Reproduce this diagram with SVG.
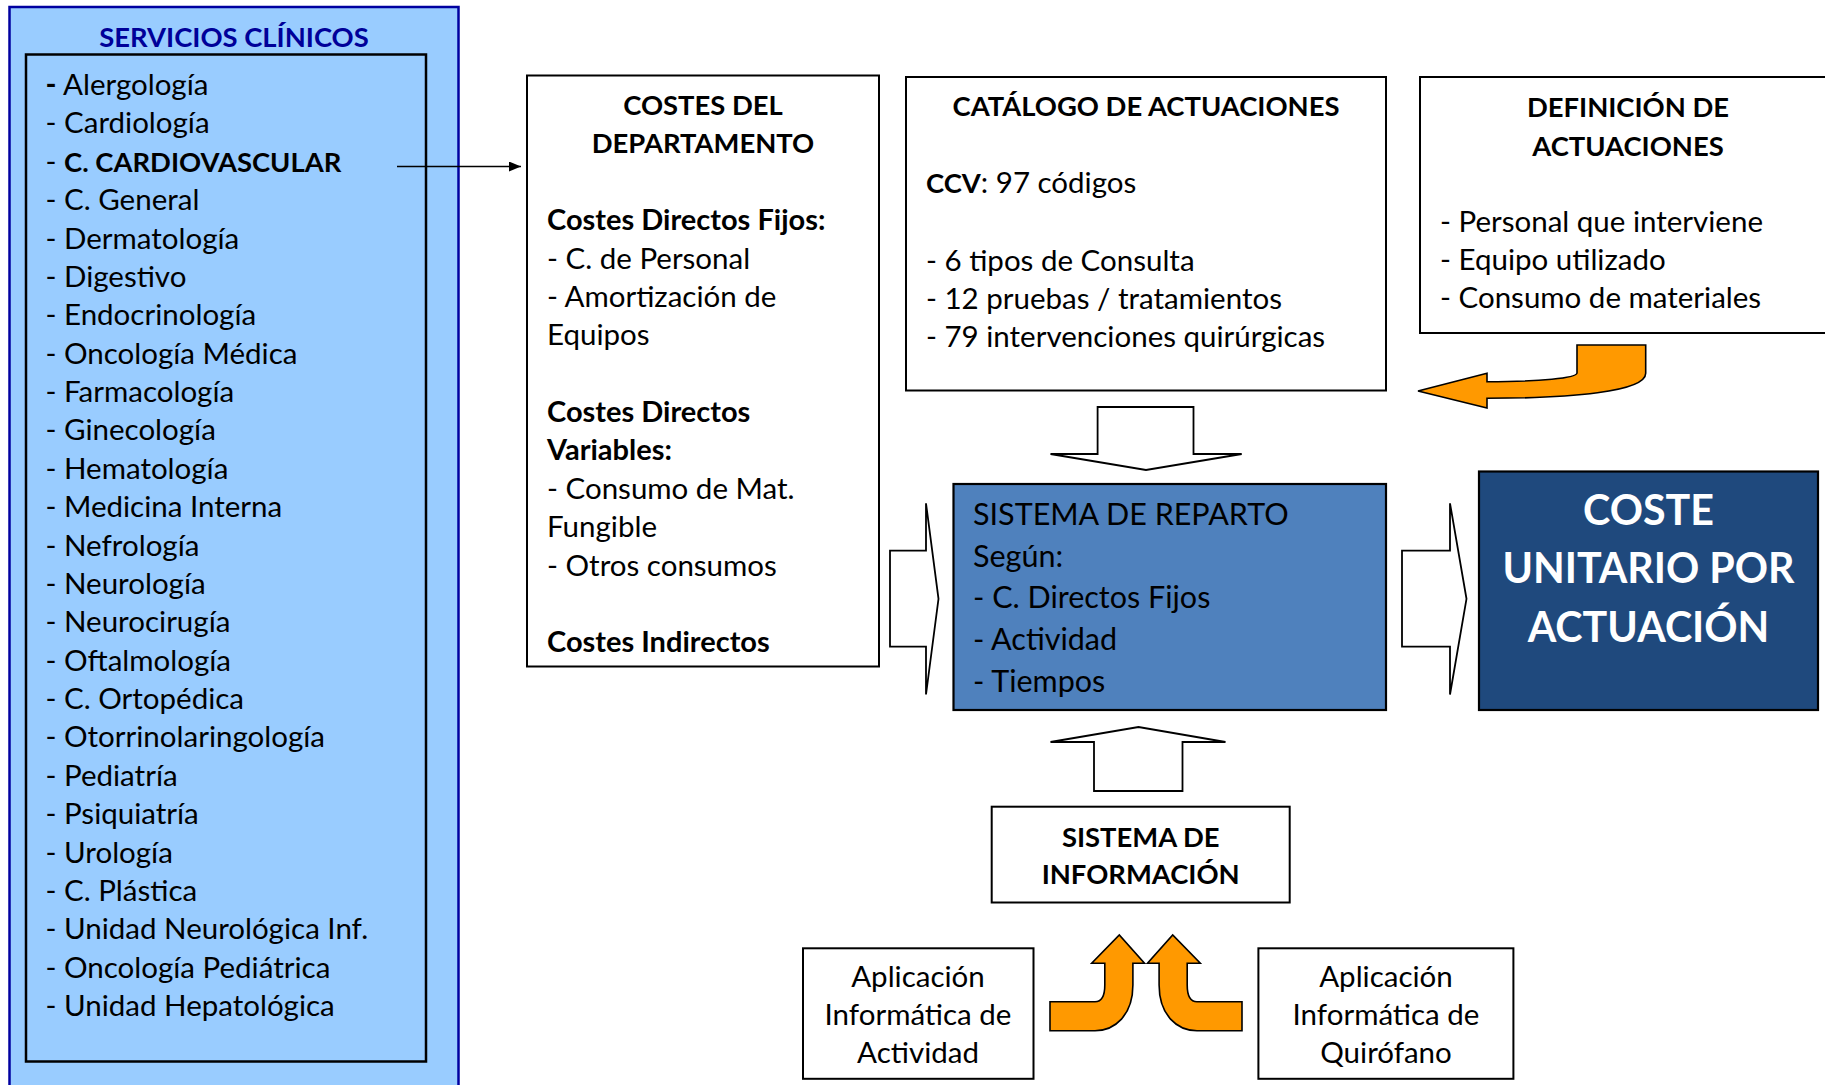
<svg xmlns="http://www.w3.org/2000/svg" width="1825" height="1085" viewBox="0 0 1825 1085">
<style>
  text { font-family: Lato, "Open Sans", "Liberation Sans", sans-serif; fill: #000; }
  .t { font-size: 29.5px; }
  .b { font-weight: bold; font-size: 27.4px; }
  .bm { font-weight: bold; font-size: 29px; }
  .c { text-anchor: middle; }
  .box { fill: #fff; stroke: #000; stroke-width: 2; }
  .blk { fill: #fff; stroke: #000; stroke-width: 1.8; stroke-linejoin: miter; }
  .org { fill: #FF9900; stroke: #000; stroke-width: 1.6; stroke-linejoin: miter; }
  .conn { stroke: #000; stroke-width: 1.6; fill: none; }
</style>
<defs>
  <marker id="ah" viewBox="0 0 12 10" refX="12" refY="5" markerWidth="12" markerHeight="10" markerUnits="userSpaceOnUse" orient="auto">
    <path d="M0,0 L12,5 L0,10 Z" fill="#000"/>
  </marker>
</defs>
<rect width="1825" height="1085" fill="#fff"/>

<g id="servicios">
  <rect x="9.5" y="7" width="449" height="1090" fill="#99CCFF" stroke="#0000A0" stroke-width="2.5"/>
  <text x="234" y="46.5" class="c b" style="fill:#000099">SERVICIOS CLÍNICOS</text>
  <rect x="26" y="54.5" width="400" height="1007" fill="none" stroke="#000" stroke-width="2.5"/>
  <g class="t">
    <text x="45.5" y="95"><tspan style="font-weight:bold">-</tspan> Alergología</text>
    <text x="45.5" y="133.4">- Cardiología</text>
    <text x="45.5" y="171.8">- <tspan class="b">C. CARDIOVASCULAR</tspan></text>
    <text x="45.5" y="210.1">- C. General</text>
    <text x="45.5" y="248.5">- Dermatología</text>
    <text x="45.5" y="286.9">- Digestivo</text>
    <text x="45.5" y="325.3">- Endocrinología</text>
    <text x="45.5" y="363.6">- Oncología Médica</text>
    <text x="45.5" y="402">- Farmacología</text>
    <text x="45.5" y="440.4">- Ginecología</text>
    <text x="45.5" y="478.8">- Hematología</text>
    <text x="45.5" y="517.1">- Medicina Interna</text>
    <text x="45.5" y="555.5">- Nefrología</text>
    <text x="45.5" y="593.9">- Neurología</text>
    <text x="45.5" y="632.3">- Neurocirugía</text>
    <text x="45.5" y="670.6">- Oftalmología</text>
    <text x="45.5" y="709">- C. Ortopédica</text>
    <text x="45.5" y="747.4">- Otorrinolaringología</text>
    <text x="45.5" y="785.8">- Pediatría</text>
    <text x="45.5" y="824.1">- Psiquiatría</text>
    <text x="45.5" y="862.5">- Urología</text>
    <text x="45.5" y="900.9">- C. Plástica</text>
    <text x="45.5" y="939.3">- Unidad Neurológica Inf.</text>
    <text x="45.5" y="977.6">- Oncología Pediátrica</text>
    <text x="45.5" y="1016">- Unidad Hepatológica</text>
  </g>
</g>

<g id="costes">
  <rect class="box" x="527" y="75.5" width="352" height="591"/>
  <g class="t">
    <text x="703" y="114.5" class="c b">COSTES DEL</text>
    <text x="703" y="153" class="c b">DEPARTAMENTO</text>
    <text x="547" y="229.5" class="bm">Costes Directos Fijos:</text>
    <text x="547" y="268.5">- C. de Personal</text>
    <text x="547" y="307">- Amortización de</text>
    <text x="547" y="345">Equipos</text>
    <text x="547" y="422" class="bm">Costes Directos</text>
    <text x="547" y="460" class="bm">Variables:</text>
    <text x="547" y="498.5">- Consumo de Mat.</text>
    <text x="547" y="536.5">Fungible</text>
    <text x="547" y="575.5">- Otros consumos</text>
    <text x="547" y="652" class="bm">Costes Indirectos</text>
  </g>
</g>

<g id="catalogo">
  <rect class="box" x="906" y="77" width="480" height="313.5"/>
  <g class="t">
    <text x="1146" y="115.5" class="c b">CATÁLOGO DE ACTUACIONES</text>
    <text x="926" y="193"><tspan class="b">CCV</tspan>: 97 códigos</text>
    <text x="926" y="270.5">- 6 tipos de Consulta</text>
    <text x="926" y="309">- 12 pruebas / tratamientos</text>
    <text x="926" y="347">- 79 intervenciones quirúrgicas</text>
  </g>
</g>

<g id="definicion">
  <rect class="box" x="1420" y="77" width="415" height="256"/>
  <g class="t">
    <text x="1628" y="116.5" class="c b">DEFINICIÓN DE</text>
    <text x="1628" y="156" class="c b">ACTUACIONES</text>
    <text x="1440" y="231.5">- Personal que interviene</text>
    <text x="1440" y="269.5">- Equipo utilizado</text>
    <text x="1440" y="308">- Consumo de materiales</text>
  </g>
</g>

<g id="reparto">
  <rect x="953.5" y="484" width="432.5" height="226" fill="#4F81BD" stroke="#000" stroke-width="2.2"/>
  <g style="font-size:30.5px">
    <text x="973" y="525">SISTEMA DE REPARTO</text>
    <text x="973" y="566.7">Según:</text>
    <text x="973" y="608.3">- C. Directos Fijos</text>
    <text x="973" y="650">- Actividad</text>
    <text x="973" y="691.7">- Tiempos</text>
  </g>
</g>

<g id="coste-unitario">
  <rect x="1479" y="471.5" width="339" height="238.5" fill="#1F497D" stroke="#000" stroke-width="2.2"/>
  <g class="c" style="font-size:41.2px;font-weight:bold">
    <text x="1648.5" y="525" style="fill:#fff">COSTE</text>
    <text x="1648.5" y="583.3" style="fill:#fff">UNITARIO POR</text>
    <text x="1648.5" y="641.7" style="fill:#fff">ACTUACIÓN</text>
  </g>
</g>

<g id="sistema-informacion">
  <rect class="box" x="991.7" y="806.7" width="298" height="95.8"/>
  <g class="c b">
    <text x="1140.7" y="846.7">SISTEMA DE</text>
    <text x="1140.7" y="884">INFORMACIÓN</text>
  </g>
</g>

<g id="app-actividad">
  <rect class="box" x="803" y="948.3" width="230.5" height="130.5"/>
  <g class="t c">
    <text x="918" y="986.7">Aplicación</text>
    <text x="918" y="1025">Informática de</text>
    <text x="918" y="1063.3">Actividad</text>
  </g>
</g>

<g id="app-quirofano">
  <rect class="box" x="1258.4" y="948.3" width="255" height="130.5"/>
  <g class="t c">
    <text x="1386" y="986.7">Aplicación</text>
    <text x="1386" y="1025">Informática de</text>
    <text x="1386" y="1063.3">Quirófano</text>
  </g>
</g>

<g id="connectors">
  <line class="conn" x1="397" y1="166.5" x2="521" y2="166.5" marker-end="url(#ah)"/>
  <path class="blk" d="M1097.6,407 L1193.5,407 L1193.5,454 L1241.7,454 L1146,470 L1050.5,454 L1097.6,454 Z"/>
  <path class="blk" d="M890,550.7 L926,550.7 L926,503.3 L938.5,598.8 L926,694.5 L926,646.7 L890,646.7 Z"/>
  <path class="blk" d="M1402,550.7 L1450,550.7 L1450,503.3 L1466.5,598.8 L1450,694.5 L1450,646.7 L1402,646.7 Z"/>
  <path class="blk" d="M1094,791 L1094,742 L1050.5,742 L1138.5,727 L1225.5,742 L1182.5,742 L1182.5,791 Z"/>
  <path class="org" d="M1577,345 L1645.7,345 L1645.7,373.3 C1645.7,392 1570,398.3 1487,398.3 L1487,408 L1418,391 L1487,373.3 L1487,381.7 C1540,381.7 1577,378 1577,373 Z"/>
  <path class="org" d="M1050,1001.7 L1095,1001.7 Q1104.8,1001.7 1104.8,985 L1104.8,963.3 L1091.7,963.3 L1119.3,935 L1144.5,963.3 L1132.9,963.3 L1132.9,985 C1132.9,1015 1115,1030.7 1095,1030.7 L1050,1030.7 Z"/>
  <path class="org" transform="translate(2292,0) scale(-1,1)" d="M1050,1001.7 L1095,1001.7 Q1104.8,1001.7 1104.8,985 L1104.8,963.3 L1091.7,963.3 L1119.3,935 L1144.5,963.3 L1132.9,963.3 L1132.9,985 C1132.9,1015 1115,1030.7 1095,1030.7 L1050,1030.7 Z"/>
</g>
</svg>
